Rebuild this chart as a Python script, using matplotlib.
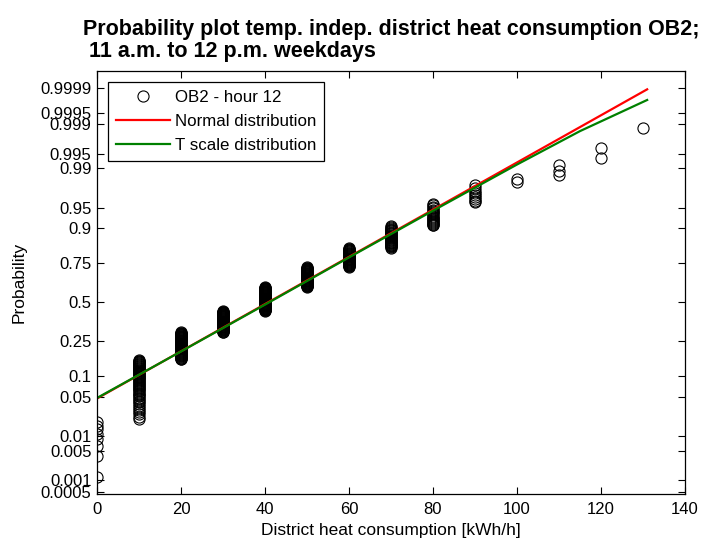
import numpy as np
import matplotlib
matplotlib.use("Agg")
import matplotlib.pyplot as plt
from matplotlib.ticker import FixedLocator, FixedFormatter, NullLocator
from statistics import NormalDist

# observed consumption levels and how many hours fall on each one
levels = [0, 10, 20, 30, 40, 50, 60, 70, 80, 90, 100, 110, 120, 130]
counts = [8, 56, 57, 55, 66, 50, 39, 32, 20, 9, 2, 3, 2, 1]

# fitted lines (x in kWh/h, y as probability)
normal_x = [0, 131]
normal_p = [0.0476, 0.99989]
tscale_x = [0, 20, 40, 60, 80, 100, 115, 131]
tscale_p = [0.0485, 0.197, 0.484, 0.782, 0.944, 0.99158, 0.99851, 0.999776]

prob_ticks = [0.0005, 0.001, 0.005, 0.01, 0.05, 0.1, 0.25, 0.5, 0.75,
              0.9, 0.95, 0.99, 0.995, 0.999, 0.9995, 0.9999]
prob_labels = ["0.0005", "0.001", "0.005", "0.01", "0.05", "0.1", "0.25", "0.5",
               "0.75", "0.9", "0.95", "0.99", "0.995", "0.999", "0.9995", "0.9999"]

nd = NormalDist()
_ppf = np.vectorize(lambda p: nd.inv_cdf(min(max(p, 1e-12), 1 - 1e-12)), otypes=[float])
_cdf = np.vectorize(nd.cdf, otypes=[float])


def fwd(p):
    return _ppf(np.asarray(p, dtype=float))


def inv(z):
    return _cdf(np.asarray(z, dtype=float))


# plotting positions as in a normal probability plot
x_sorted = np.repeat(levels, counts)
n = len(x_sorted)
p_pos = (np.arange(1, n + 1) - 0.5) / n

plt.rcParams["font.family"] = ["Liberation Sans", "DejaVu Sans"]

fig = plt.figure(figsize=(7.07, 5.40), dpi=100)
ax = fig.add_axes([0.1372, 0.0852, 0.8316, 0.7833])

ax.plot(x_sorted, p_pos, "o", mfc="none", mec="black", ms=8, mew=0.8,
        label="OB2 - hour 12")
ax.plot(normal_x, normal_p, color="#ff0000", lw=1.6, label="Normal distribution")
ax.plot(tscale_x, tscale_p, color="#008000", lw=1.6, label="T scale distribution")

ax.set_yscale("function", functions=(fwd, inv))
ax.set_ylim(0.000442, 0.99997)
ax.set_xlim(0, 140)
ax.yaxis.set_major_locator(FixedLocator(prob_ticks))
ax.yaxis.set_major_formatter(FixedFormatter(prob_labels))
ax.yaxis.set_minor_locator(NullLocator())
ax.set_xticks(range(0, 141, 20))

ax.tick_params(direction="in", length=5, width=0.8, labelsize=12,
               top=True, right=True, colors="black")
ax.tick_params(axis="x", pad=6)
ax.tick_params(axis="y", pad=4)
for s in ax.spines.values():
    s.set_linewidth(0.9)

ax.set_xlabel("District heat consumption [kWh/h]", fontsize=12.5, labelpad=4)
ax.set_ylabel("Probability", fontsize=12.5, labelpad=10)
ax.set_title("Probability plot temp. indep. district heat consumption OB2;\n"
             " 11 a.m. to 12 p.m. weekdays",
             fontsize=15.5, fontweight="bold", ma="left", pad=10, linespacing=1.08)

leg = ax.legend(loc="upper left", fontsize=12.2, fancybox=False, framealpha=1,
                edgecolor="black", handlelength=3.2, borderpad=0.45,
                labelspacing=0.55, handletextpad=0.3, borderaxespad=0.65)
leg.get_frame().set_linewidth(0.9)

fig.savefig("out.png", dpi=100)
